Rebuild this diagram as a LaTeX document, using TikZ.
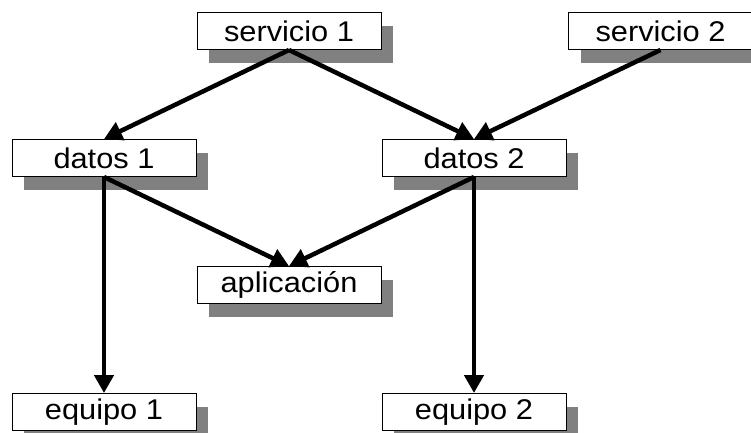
\documentclass[tikz,border=0pt]{standalone}
\usepackage{fontspec}
\setmainfont{Liberation Sans}[FakeStretch=1.08]
\usetikzlibrary{arrows.meta,shadows}
\definecolor{shadowgray}{RGB}{128,128,128}
\tikzset{
  box/.style={draw=black, line width=1pt, fill=white, minimum width=184pt, minimum height=37pt,
    inner sep=0pt, font=\fontsize{28.5pt}{30pt}\selectfont,
    drop shadow={shadow xshift=12pt, shadow yshift=-13pt, fill=shadowgray, opacity=1}},
  conn/.style={line width=4.5pt, -{Triangle[length=18pt,width=19pt]}}
}
\begin{document}
\begin{tikzpicture}[x=1pt,y=-1pt]
\useasboundingbox[fill=white] (0,0) rectangle (751,432);
\node[box] (s1) at (289,31) {servicio 1};
\node[box] (s2) at (660.5,31) {servicio 2};
\node[box] (d1) at (104,158) {datos 1};
\node[box] (d2) at (474,158) {datos 2};
\node[box] (ap) at (289,285) {aplicación};
\node[box] (e1) at (104,412) {equipo 1};
\node[box] (e2) at (474,412) {equipo 2};
\draw[conn] (s1.south) -- (d1.north);
\draw[conn] (s1.south) -- (d2.north);
\draw[conn] (s2.south) -- (d2.north);
\draw[conn] (d1.south) -- (ap.north);
\draw[conn] (d2.south) -- (ap.north);
\draw[conn] (d1.south) -- (e1.north);
\draw[conn] (d2.south) -- (e2.north);
\end{tikzpicture}
\end{document}
